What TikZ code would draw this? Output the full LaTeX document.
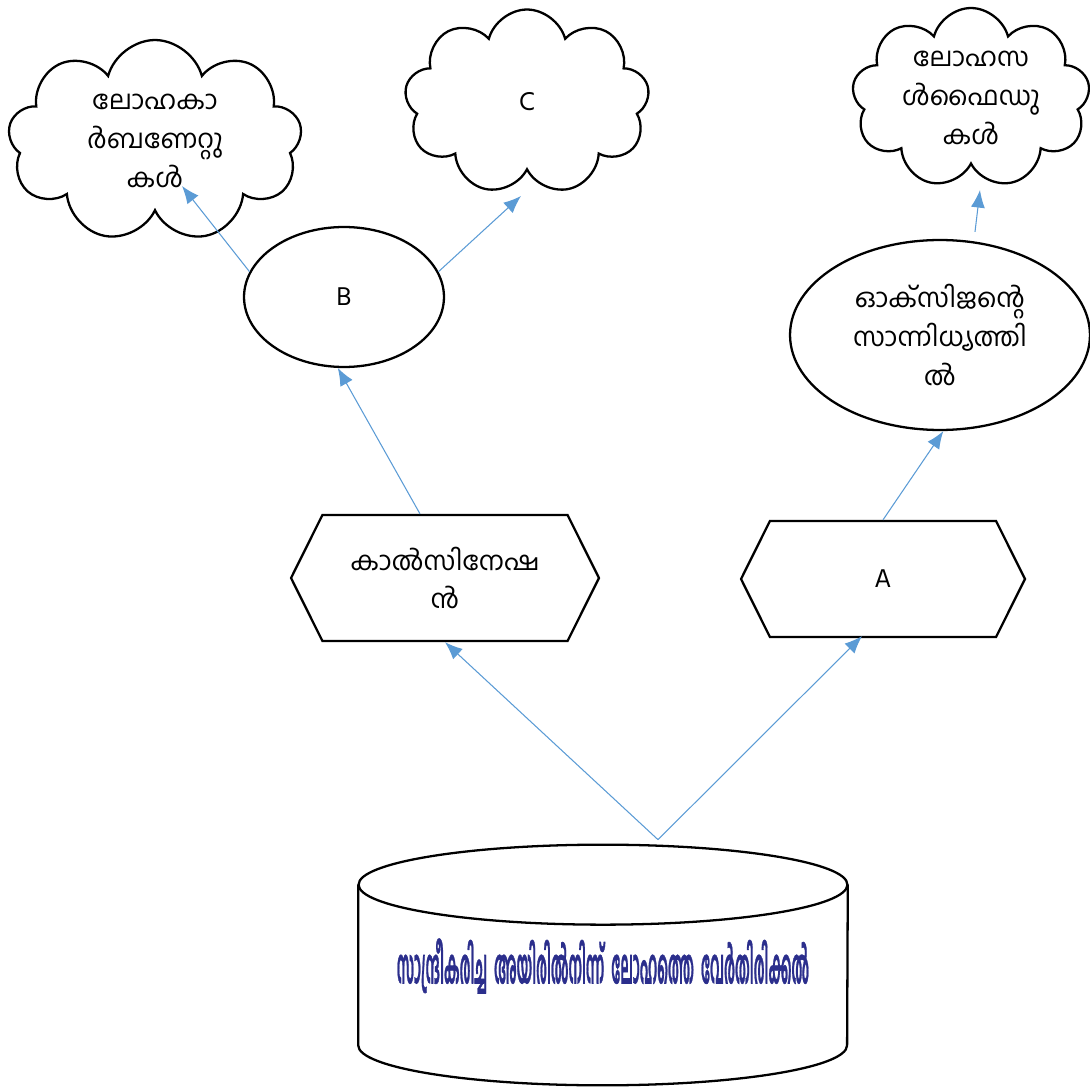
\documentclass[tikz,border=0pt]{standalone}
\usepackage{fontspec}
\setmainfont{Carlito}
\newfontfamily\mlfont[Script=Malayalam]{Hind Kochi}
\newfontfamily\mlheavy[Script=Malayalam, FakeBold=1.5]{Hind Kochi}
\usetikzlibrary{shapes.geometric, shapes.symbols, arrows.meta, positioning, calc}
\definecolor{arrowblue}{RGB}{91,155,213}
\definecolor{titleblue}{RGB}{43,46,140}

\begin{document}
\begin{tikzpicture}[
    x=0.02cm, y=-0.02cm,
    every node/.style={font=\mlfont\fontsize{15}{22}\selectfont, align=center},
    thought/.style={cloud, cloud puffs=9, draw, line width=1.3pt, inner sep=0pt},
    oval/.style={ellipse, draw, line width=1.3pt, inner sep=0pt},
    hexbox/.style={signal, signal to=west and east, signal pointer angle=127, draw, line width=1.3pt, inner sep=0pt},
    drum/.style={rectangle, minimum width=9.78cm, minimum height=3.2cm, inner sep=0pt},
    arrow/.style={-{Latex[length=10pt,width=8pt]}, arrowblue, line width=0.6pt}
]
    \useasboundingbox (0,0) rectangle (1090,1088);

    \node[drum] (ore) at (603,965) {};
    \draw[line width=1.3pt] (ore.north) ellipse [x radius=4.89cm, y radius=0.8cm];
    \draw[line width=1.3pt] (ore.north west) -- (ore.south west)
        arc [start angle=180, end angle=360, x radius=4.89cm, y radius=0.8cm] -- (ore.north east);
    \node[font=\mlheavy\bfseries\fontsize{17}{20}\selectfont, text=titleblue] (oretext) at (603,966) {\scalebox{0.47}[1.6]{സാന്ദ്രീകരിച്ച\ \ അയിരിൽനിന്ന്\ \ ലോഹത്തെ\ \ വേർതിരിക്കൽ}};

    \node[hexbox, minimum width=6.16cm, minimum height=2.52cm] (calc) at (445,578) {കാൽസിനേഷ\\ൻ};
    \node[hexbox, minimum width=5.68cm, minimum height=2.32cm] (roast) at (883,579) {A};

    \node[oval, minimum width=4cm, minimum height=2.8cm] (oxideB) at (344,297) {B};
    \node[oval, minimum width=6cm, minimum height=3.8cm] (oxygen) at (940,335) {ഓക്സിജന്റെ\\സാന്നിധ്യത്തി\\ൽ};

    \node[thought, minimum width=5.88cm, minimum height=4.04cm,
        label={[align=center]center:{ലോഹകാ\\ർബണേറ്റു\\കൾ}}] (carbonate) at (155,141) {};
    \node[thought, minimum width=4.9cm, minimum height=3.7cm] (cloudC) at (527,102) {C};
    \node[thought, minimum width=4.76cm, minimum height=3.6cm,
        label={[align=center]center:{ലോഹസ\\ൾഫൈഡു\\കൾ}}] (sulphide) at (971,98) {};

    \draw[arrow] ($(ore.north)+(55,-45)$) -- (calc.south);
    \draw[arrow] ($(ore.north)+(55,-45)$) -- ($(roast.south)+(-21,-2)$);
    \draw[arrow] ($(calc.north)+(-25,0)$) -- (oxideB.265);
    \draw[arrow] (roast.north) -- (oxygen.272);
    \draw[arrow] (oxideB.165) -- ($(carbonate.center)+(27,45)$);
    \draw[arrow] (oxideB.15) -- ($(cloudC.center)+(-6,94)$);
    \draw[arrow] ($(oxygen.north)+(35,-7)$) -- ($(sulphide.center)+(9,92)$);
\end{tikzpicture}
\end{document}
